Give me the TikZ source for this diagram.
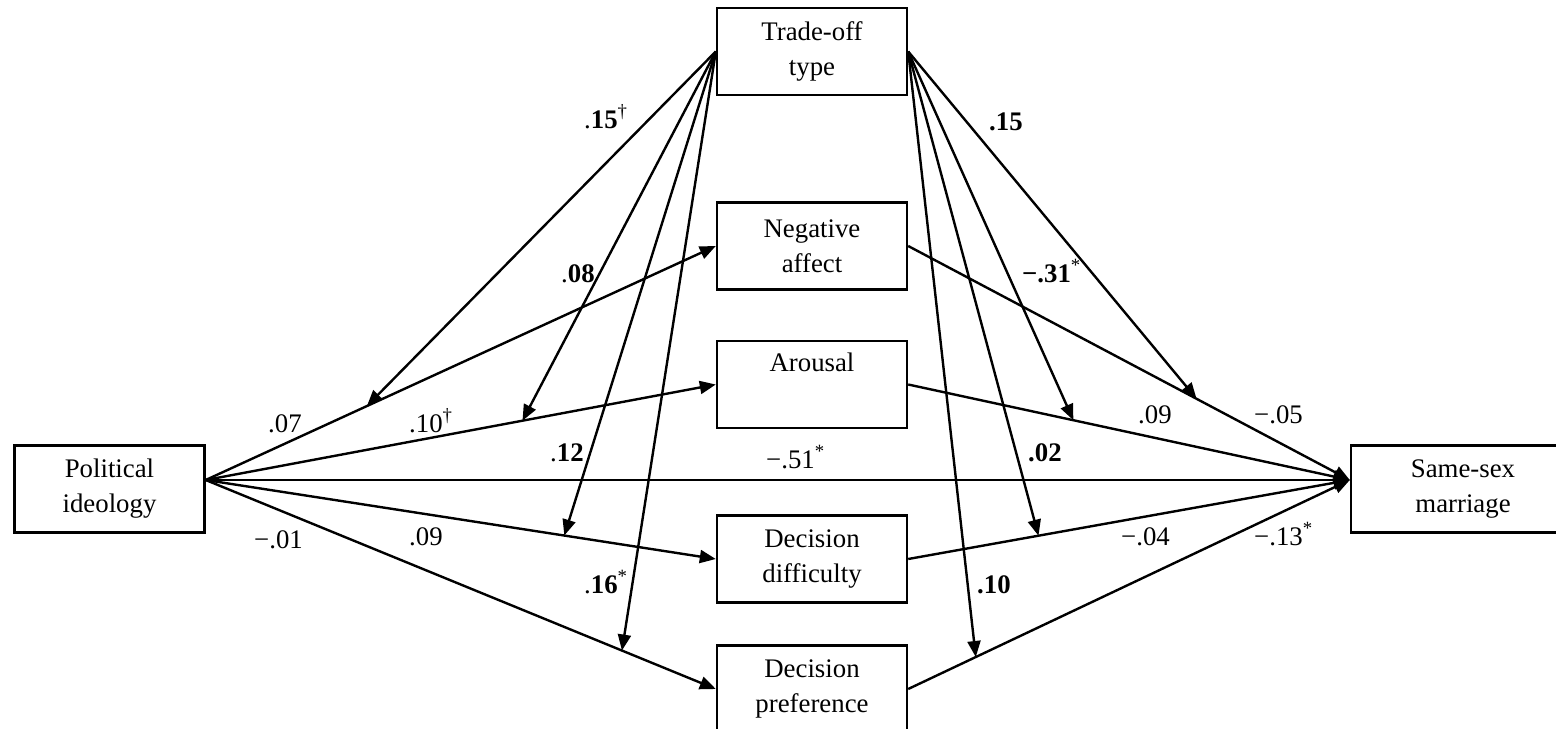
\documentclass[tikz,border=0pt]{standalone}
\usepackage{fontspec}
\setmainfont{Liberation Serif}
\usetikzlibrary{arrows.meta}

\begin{document}
\begin{tikzpicture}[x=0.5pt,y=-0.5pt,line width=1.2pt,>={Triangle[length=8pt,width=6.5pt]},font=\fontsize{13.4}{17.5}\selectfont]
\tikzstyle{box}=[rectangle,draw,black,fill=white,align=center,inner sep=0pt,minimum width=95pt,minimum height=43.5pt]
\tikzstyle{lbl}=[anchor=base west,inner sep=0pt]
\useasboundingbox (0,0) rectangle (1556,728);

\node[box](trade) at (812,51.5) {Trade-off\\type};
\node[box](neg) at (812,246) {Negative\\affect};
\node[box](arous) at (812,384.5) {Arousal\\\strut};
\node[box](diff) at (812,559) {Decision\\difficulty};
\node[box](pref) at (812,689) {Decision\\preference};
\node[box](pol) at (109.5,489) {Political\\ideology};
\node[box,minimum width=112pt](ssm) at (1463,489) {Same-sex\\marriage};
\coordinate (polout) at ([yshift=4.5pt]pol.east);
\coordinate (ssmin) at ([yshift=4.5pt]ssm.west);

% paths through the mediators
\draw[->] (polout) -- coordinate[pos=.316] (m1) (neg.west);
\draw[->] (polout) -- coordinate[pos=.621] (m2) (arous.west);
\draw[->] (polout) -- coordinate[pos=.703] (m3) (diff.west);
\draw[->] (polout) -- coordinate[pos=.816] (m4) (pref.west);
\draw[->] (neg.east) -- coordinate[pos=.653] (n1) (ssmin);
\draw[->] (arous.east) -- coordinate[pos=.374] (n2) (ssmin);
\draw[->] (diff.east) -- coordinate[pos=.295] (n3) (ssmin);
\draw[->] (pref.east) -- coordinate[pos=.153] (n4) (ssmin);
\draw[->] (polout) -- (ssmin);

% moderation by trade-off type
\draw[->] (trade.west) -- (m1);
\draw[->] (trade.west) -- (m2);
\draw[->] (trade.west) -- (m3);
\draw[->] (trade.west) -- (m4);
\draw[->] (trade.east) -- (n1);
\draw[->] (trade.east) -- (n2);
\draw[->] (trade.east) -- (n3);
\draw[->] (trade.east) -- (n4);

\node[lbl](a1) at (267,432) {.07};
\node[lbl](a2) at (408,432) {.10\textsuperscript{†}};
\node[lbl](a3) at (765,468) {−.51\textsuperscript{*}};
\node[lbl](a4) at (1137,423) {.09};
\node[lbl](a5) at (1253,423) {−.05};
\node[lbl](a6) at (253,548) {−.01};
\node[lbl](a7) at (408,545) {.09};
\node[lbl](a8) at (1120,545) {−.04};
\node[lbl](a9) at (1253,545) {−.13\textsuperscript{*}};

\node[lbl](b1) at (583,128) {.\textbf{15}\textsuperscript{†}};
\node[lbl](b2) at (560,282) {.\textbf{08}};
\node[lbl](b3) at (549,461) {.\textbf{12}};
\node[lbl](b4) at (583,593) {.\textbf{16}\textsuperscript{*}};
\node[lbl](b5) at (988,130) {\textbf{.15}};
\node[lbl](b6) at (1021,282) {\textbf{−.31}\textsuperscript{*}};
\node[lbl](b7) at (1027,461) {\textbf{.02}};
\node[lbl](b8) at (976,593) {\textbf{.10}};
\end{tikzpicture}
\end{document}
